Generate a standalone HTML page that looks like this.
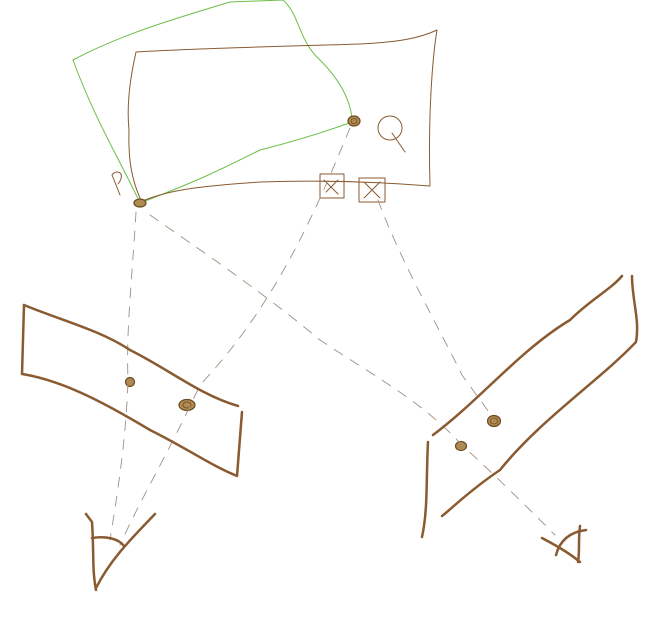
<!DOCTYPE html>
<html><head><meta charset="utf-8"><style>
html,body{margin:0;padding:0;background:#fff;width:661px;height:627px;overflow:hidden}
svg{display:block}
</style></head><body>
<svg width="661" height="627" viewBox="0 0 661 627" fill="none" stroke-linecap="round" stroke-linejoin="round">
<g stroke="#6cbf4a" stroke-width="1">
<path d="M140,203 C120,160 95,120 73,60 C120,35 170,20 230,2 L283,0 C300,15 298,40 320,60 C340,80 350,100 352,118"/>
<path d="M140,203 C200,180 220,170 260,150 C300,140 330,130 352,122"/>
</g>
<g stroke="#8a5a30" stroke-width="1">
<path d="M136,52 C200,48 300,46 360,44 C400,42 420,38 437,30 C432,60 428,120 430,185"/>
<path d="M430,186 C380,182 320,180 260,182 C200,186 170,190 145,200"/>
<path d="M136,52 C132,70 126,100 129,130 C128,160 132,180 140,198"/>
<path d="M120,195 L112,175 C118,168 126,174 118,184"/>
<circle cx="390" cy="128" r="12"/>
<path d="M392,133 L405,152"/>
<rect x="320" y="174" width="24" height="24"/><path d="M324,180 L338,194 M338,180 L326,192"/>
<rect x="359" y="178" width="26" height="24"/><path d="M364,182 L380,198 M380,182 L364,198"/>
</g>
<text x="110" y="188" font-family="Liberation Sans, sans-serif" font-size="1" fill="#fff">P</text>
<text x="380" y="130" font-family="Liberation Sans, sans-serif" font-size="1" fill="#fff">Q</text>
<g fill="#b08a50" stroke="#6a4a20" stroke-width="1.2">
<ellipse cx="140" cy="203" rx="6" ry="4"/>
<ellipse cx="354" cy="121" rx="6" ry="5"/>
<circle cx="130" cy="382" r="4.5"/>
<ellipse cx="187" cy="405" rx="8" ry="5.5"/>
<ellipse cx="461" cy="446" rx="5.5" ry="4.5"/>
<ellipse cx="494" cy="421" rx="6.5" ry="5.5"/>
</g>
<g fill="none" stroke="#6a4a20" stroke-width="0.8">
<ellipse cx="354" cy="121" rx="3" ry="2.5"/>
<ellipse cx="187" cy="405" rx="4" ry="3"/>
<ellipse cx="494" cy="421" rx="3.5" ry="3"/>
</g>
<g stroke="#a09080" stroke-width="0.9" stroke-dasharray="10,9">
<path d="M136,212 C132,280 126,330 128,380 C126,440 118,490 110,540"/>
<path d="M350,128 C320,200 280,300 200,385 C170,450 140,500 120,545"/>
<path d="M150,215 C200,250 260,290 320,340 C380,380 420,400 462,445 C500,480 530,510 555,535"/>
<path d="M378,200 C400,260 440,330 462,375 C480,400 488,410 494,420"/>
</g>
<g stroke="#8a5a30" stroke-width="2.5">
<path d="M24,305 C60,320 100,330 130,350 C170,370 200,395 238,406"/>
<path d="M24,305 L22,374 C60,380 100,400 150,430 C190,450 210,465 237,476 L242,412"/>
</g>
<g stroke="#8a5a30" stroke-width="2.5">
<path d="M433,435 C480,400 520,350 570,320 C590,300 610,290 622,276"/>
<path d="M632,276 C632,300 640,320 636,342 C600,380 540,420 500,470 C470,490 450,510 442,516"/>
<path d="M428,442 C426,480 428,510 422,537"/>
</g>
<g stroke="#8a5a30" stroke-width="2.5">
<path d="M86,514 L92,522 C94,550 92,570 96,590"/>
<path d="M92,538 C105,536 118,538 124,546"/>
<path d="M96,588 C110,560 130,540 155,514"/>
</g>
<g stroke="#8a5a30" stroke-width="2.5">
<path d="M542,538 C555,545 568,552 580,562"/>
<path d="M580,526 C578,540 580,550 578,562"/>
<path d="M556,555 C560,540 570,532 586,530"/>
</g>
</svg>
</body></html>
